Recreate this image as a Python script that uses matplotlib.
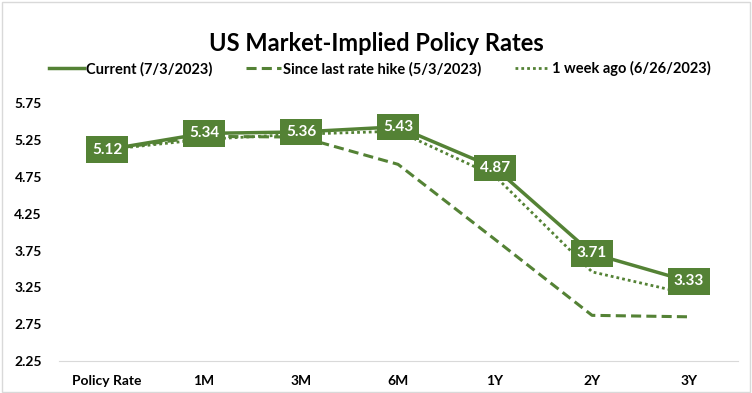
import matplotlib.pyplot as plt
import numpy as np

plt.rcParams['font.family'] = ['Lato', 'DejaVu Sans']

categories = ["Policy Rate", "1M", "3M", "6M", "1Y", "2Y", "3Y"]
current = [5.12, 5.34, 5.36, 5.43, 4.87, 3.71, 3.33]
since_hike = [5.12, 5.30, 5.29, 4.92, 3.90, 2.87, 2.85]
week_ago = [5.12, 5.26, 5.33, 5.37, 4.76, 3.46, 3.16]
yticks = [2.25, 2.75, 3.25, 3.75, 4.25, 4.75, 5.25, 5.75]

green = "#548235"

fig = plt.figure(figsize=(7.52, 3.93), dpi=100)
ax = fig.add_axes([0.0778, 0.0814, 0.903, 0.656])
x = np.arange(len(categories))

ax.plot(x, since_hike, color=green, lw=2.2, ls=(0, (3.3, 1.7)), label="Since last rate hike (5/3/2023)")
ax.plot(x, week_ago, color=green, lw=2.0, ls=(0, (1, 1.1)), label="1 week ago (6/26/2023)")
ax.plot(x, current, color=green, lw=2.5, label="Current (7/3/2023)", zorder=3)

for xi, v in zip(x, current):
    ax.text(xi, v, f"{v:.2f}", ha="center", va="center", color="white",
            fontsize=11, fontweight="bold", zorder=5,
            bbox=dict(boxstyle="square,pad=0.4", fc=green, ec="none"))

ax.set_xlim(-0.5, len(categories) - 0.5)
ax.set_ylim(2.25, 5.75)
ax.set_xticks(x)
ax.set_xticklabels(categories, fontsize=10, fontweight="bold")
ax.set_yticks(yticks)
ax.set_yticklabels([f"{t:.2f}" for t in yticks], fontsize=10, fontweight="bold")
ax.tick_params(axis="x", length=0, pad=10)
ax.tick_params(axis="y", length=0, pad=12)
for s in ["top", "right", "left"]:
    ax.spines[s].set_visible(False)
ax.spines["bottom"].set_color("#d9d9d9")

handles, labels = ax.get_legend_handles_labels()
order = [2, 0, 1]
fig.legend([handles[i] for i in order], [labels[i] for i in order],
           loc="center", bbox_to_anchor=(0.505, 0.825), ncol=3, frameon=False,
           prop=dict(size=10.5, weight="bold"), handlelength=2.4,
           handletextpad=0.15, columnspacing=2.3)

fig.text(0.5, 0.89, "US Market-Implied Policy Rates", ha="center", va="center",
         fontsize=17, fontweight="bold")

fig.patches.append(plt.Rectangle((0.002, 0.003), 0.995, 0.993, transform=fig.transFigure,
                                 fill=False, ec="#d9d9d9", lw=1))

fig.savefig("out.png", dpi=100)
